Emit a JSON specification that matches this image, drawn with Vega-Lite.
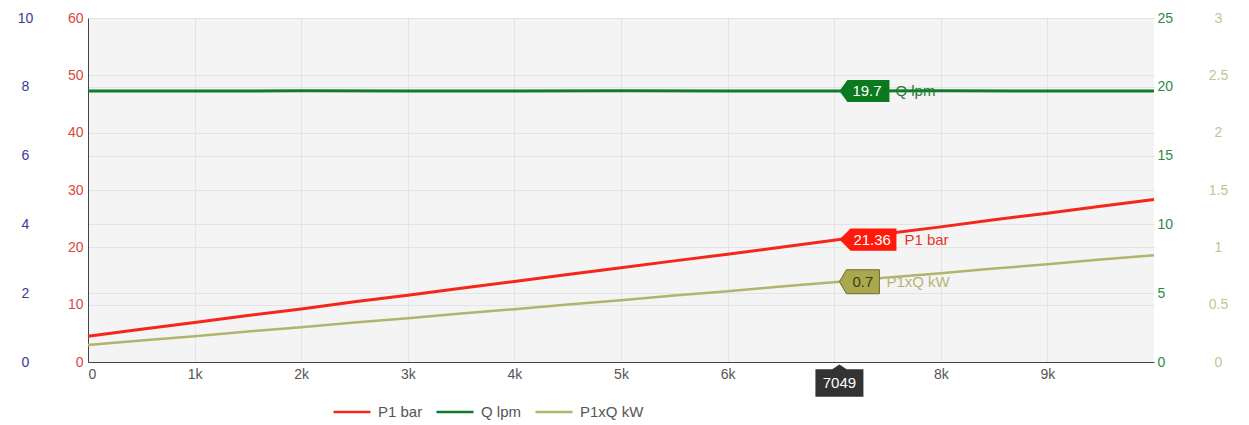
{
  "$schema": "https://vega.github.io/schema/vega-lite/v6.json",
  "width": 1066,
  "height": 344,
  "autosize": "none",
  "padding": {"left": 88, "top": 18, "right": 95, "bottom": 63},
  "background": "white",
  "config": {
    "view": {"fill": "#f4f4f4", "stroke": null},
    "font": "Liberation Sans",
    "axis": {"labelFont": "Liberation Sans", "labelFontSize": 14, "gridColor": "#e4e4e4", "gridWidth": 1, "ticks": false, "title": null},
    "legend": {"labelFont": "Liberation Sans"}
  },
  "datasets": {
    "series": [
      {"t": 0, "series": "P1 bar", "value": 4.5},
      {"t": 500, "series": "P1 bar", "value": 5.72},
      {"t": 1000, "series": "P1 bar", "value": 6.88},
      {"t": 1500, "series": "P1 bar", "value": 8.1},
      {"t": 2000, "series": "P1 bar", "value": 9.25},
      {"t": 2500, "series": "P1 bar", "value": 10.49},
      {"t": 3000, "series": "P1 bar", "value": 11.64},
      {"t": 3500, "series": "P1 bar", "value": 12.87},
      {"t": 4000, "series": "P1 bar", "value": 14.03},
      {"t": 4500, "series": "P1 bar", "value": 15.26},
      {"t": 5000, "series": "P1 bar", "value": 16.42},
      {"t": 5500, "series": "P1 bar", "value": 17.64},
      {"t": 6000, "series": "P1 bar", "value": 18.8},
      {"t": 6500, "series": "P1 bar", "value": 20.03},
      {"t": 7049, "series": "P1 bar", "value": 21.36},
      {"t": 7500, "series": "P1 bar", "value": 22.41},
      {"t": 8000, "series": "P1 bar", "value": 23.57},
      {"t": 8500, "series": "P1 bar", "value": 24.8},
      {"t": 9000, "series": "P1 bar", "value": 25.96},
      {"t": 9500, "series": "P1 bar", "value": 27.18},
      {"t": 10000, "series": "P1 bar", "value": 28.36},
      {"t": 0, "series": "Q lpm", "value": 19.7},
      {"t": 1000, "series": "Q lpm", "value": 19.69},
      {"t": 2000, "series": "Q lpm", "value": 19.71},
      {"t": 3000, "series": "Q lpm", "value": 19.7},
      {"t": 4000, "series": "Q lpm", "value": 19.69},
      {"t": 5000, "series": "Q lpm", "value": 19.71},
      {"t": 6000, "series": "Q lpm", "value": 19.7},
      {"t": 7049, "series": "Q lpm", "value": 19.7},
      {"t": 8000, "series": "Q lpm", "value": 19.71},
      {"t": 9000, "series": "Q lpm", "value": 19.69},
      {"t": 10000, "series": "Q lpm", "value": 19.7},
      {"t": 0, "series": "P1xQ kW", "value": 0.148},
      {"t": 500, "series": "P1xQ kW", "value": 0.188},
      {"t": 1000, "series": "P1xQ kW", "value": 0.225},
      {"t": 1500, "series": "P1xQ kW", "value": 0.266},
      {"t": 2000, "series": "P1xQ kW", "value": 0.304},
      {"t": 2500, "series": "P1xQ kW", "value": 0.345},
      {"t": 3000, "series": "P1xQ kW", "value": 0.382},
      {"t": 3500, "series": "P1xQ kW", "value": 0.423},
      {"t": 4000, "series": "P1xQ kW", "value": 0.46},
      {"t": 4500, "series": "P1xQ kW", "value": 0.501},
      {"t": 5000, "series": "P1xQ kW", "value": 0.539},
      {"t": 5500, "series": "P1xQ kW", "value": 0.58},
      {"t": 6000, "series": "P1xQ kW", "value": 0.617},
      {"t": 6500, "series": "P1xQ kW", "value": 0.658},
      {"t": 7049, "series": "P1xQ kW", "value": 0.7},
      {"t": 7500, "series": "P1xQ kW", "value": 0.736},
      {"t": 8000, "series": "P1xQ kW", "value": 0.773},
      {"t": 8500, "series": "P1xQ kW", "value": 0.815},
      {"t": 9000, "series": "P1xQ kW", "value": 0.852},
      {"t": 9500, "series": "P1xQ kW", "value": 0.893},
      {"t": 10000, "series": "P1xQ kW", "value": 0.93}
    ],
    "markers": [
      {"t": 7049, "series": "P1 bar", "value": 21.36, "label": "21.36"},
      {"t": 7049, "series": "Q lpm", "value": 19.7, "label": "19.7"},
      {"t": 7049, "series": "P1xQ kW", "value": 0.7, "label": "0.7"},
      {"t": 7049, "series": "x", "value": 0, "label": "7049"}
    ]
  },
  "layer": [
    {
      "data": {"values": [{"k": 1}]},
      "mark": {"type": "rule", "opacity": 0},
      "encoding": {
        "y": {"datum": 0, "type": "quantitative", "scale": {"domain": [0, 10], "nice": false},
          "axis": {"orient": "left", "offset": 63, "values": [0, 2, 4, 6, 8, 10], "labelAlign": "center", "labelPadding": 0, "domain": false, "grid": false, "labelColor": "#3a3a94", "title": null}}
      }
    },
    {
      "layer": [
        {
          "data": {"name": "series"},
          "transform": [{"filter": "datum.series === 'P1 bar'"}],
          "mark": {"type": "line", "strokeWidth": 3},
          "encoding": {
            "x": {"field": "t", "type": "quantitative", "scale": {"domain": [0, 10000], "nice": false},
              "axis": {"values": [0, 1000, 2000, 3000, 4000, 5000, 6000, 7000, 8000, 9000], "labelExpr": "datum.value === 0 ? '0' : (datum.value === 7000 ? '' : (datum.value / 1000) + 'k')", "labelColor": "#555555", "labelPadding": 5, "domain": true, "domainColor": "#444444", "grid": true, "title": null}},
            "y": {"field": "value", "type": "quantitative", "scale": {"domain": [0, 60], "nice": false},
              "axis": {"orient": "left", "values": [0, 10, 20, 30, 40, 50, 60], "labelColor": "#d9473d", "labelPadding": 5, "domain": true, "domainColor": "#444444", "grid": true, "title": null}},
            "color": {"field": "series", "type": "nominal",
              "scale": {"domain": ["P1 bar", "Q lpm", "P1xQ kW"], "range": ["#f5261a", "#0f7a2a", "#b3b46c"]},
              "legend": {"orient": "none", "legendX": 244, "legendY": 374, "direction": "horizontal", "title": null, "symbolType": "stroke", "symbolSize": 1369, "symbolStrokeWidth": 2.5, "labelFontSize": 15, "labelColor": "#555555", "columnPadding": 8, "labelOffset": 6}}
          }
        },
        {
          "data": {"name": "markers"},
          "transform": [{"filter": "datum.series === 'P1 bar'"}],
          "mark": {"type": "point", "shape": "M0,0L0.39,-0.39L2,-0.39L2,0.39L0.39,0.39Z", "size": 3249, "filled": true, "fill": "#ff1a0a", "opacity": 1, "strokeWidth": 0},
          "encoding": {"x": {"field": "t", "type": "quantitative", "title": null}, "y": {"field": "value", "type": "quantitative", "title": null}}
        },
        {
          "data": {"name": "markers"},
          "transform": [{"filter": "datum.series === 'P1 bar'"}],
          "mark": {"type": "text", "align": "left", "baseline": "middle", "dx": 14, "fontSize": 15, "color": "#ffffff"},
          "encoding": {"x": {"field": "t", "type": "quantitative", "title": null}, "y": {"field": "value", "type": "quantitative", "title": null}, "text": {"field": "label"}}
        },
        {
          "data": {"name": "markers"},
          "transform": [{"filter": "datum.series === 'P1 bar'"}],
          "mark": {"type": "text", "align": "left", "baseline": "middle", "dx": 65, "fontSize": 15, "color": "#e8332a"},
          "encoding": {"x": {"field": "t", "type": "quantitative", "title": null}, "y": {"field": "value", "type": "quantitative", "title": null}, "text": {"field": "series"}}
        },
        {
          "data": {"name": "markers"},
          "transform": [{"filter": "datum.series === 'x'"}],
          "mark": {"type": "point", "shape": "M0,0.1L0.3,0.3L1,0.3L1,1.45L-1,1.45L-1,0.3L-0.3,0.3Z", "size": 2304, "filled": true, "fill": "#333333", "opacity": 1, "strokeWidth": 0},
          "encoding": {"x": {"field": "t", "type": "quantitative", "title": null}, "y": {"field": "value", "type": "quantitative", "title": null}}
        },
        {
          "data": {"name": "markers"},
          "transform": [{"filter": "datum.series === 'x'"}],
          "mark": {"type": "text", "align": "center", "baseline": "middle", "dy": 21, "fontSize": 15, "color": "#ffffff"},
          "encoding": {"x": {"field": "t", "type": "quantitative", "title": null}, "y": {"field": "value", "type": "quantitative", "title": null}, "text": {"field": "label"}}
        }
      ]
    },
    {
      "layer": [
        {
          "data": {"name": "series"},
          "transform": [{"filter": "datum.series === 'Q lpm'"}],
          "mark": {"type": "line", "strokeWidth": 3},
          "encoding": {
            "x": {"field": "t", "type": "quantitative", "title": null},
            "y": {"field": "value", "type": "quantitative", "scale": {"domain": [0, 25], "nice": false},
              "axis": {"orient": "right", "values": [0, 5, 10, 15, 20, 25], "labelColor": "#2e8a44", "labelPadding": 3, "domain": false, "grid": true, "title": null}},
            "color": {"field": "series", "type": "nominal"}
          }
        },
        {
          "data": {"name": "markers"},
          "transform": [{"filter": "datum.series === 'Q lpm'"}],
          "mark": {"type": "point", "shape": "M0,0L0.32,-0.44L2,-0.44L2,0.44L0.32,0.44Z", "size": 2500, "filled": true, "fill": "#0b7a1e", "opacity": 1, "strokeWidth": 0},
          "encoding": {"x": {"field": "t", "type": "quantitative", "title": null}, "y": {"field": "value", "type": "quantitative", "title": null}}
        },
        {
          "data": {"name": "markers"},
          "transform": [{"filter": "datum.series === 'Q lpm'"}],
          "mark": {"type": "text", "align": "left", "baseline": "middle", "dx": 13, "fontSize": 15, "color": "#ffffff"},
          "encoding": {"x": {"field": "t", "type": "quantitative", "title": null}, "y": {"field": "value", "type": "quantitative", "title": null}, "text": {"field": "label"}}
        },
        {
          "data": {"name": "markers"},
          "transform": [{"filter": "datum.series === 'Q lpm'"}],
          "mark": {"type": "text", "align": "left", "baseline": "middle", "dx": 56, "fontSize": 15, "color": "#1f7a35"},
          "encoding": {"x": {"field": "t", "type": "quantitative", "title": null}, "y": {"field": "value", "type": "quantitative", "title": null}, "text": {"field": "series"}}
        }
      ]
    },
    {
      "layer": [
        {
          "data": {"name": "series"},
          "transform": [{"filter": "datum.series === 'P1xQ kW'"}],
          "mark": {"type": "line", "strokeWidth": 2.5},
          "encoding": {
            "x": {"field": "t", "type": "quantitative", "title": null},
            "y": {"field": "value", "type": "quantitative", "scale": {"domain": [0, 3], "nice": false},
              "axis": {"orient": "right", "offset": 64, "values": [0, 0.5, 1, 1.5, 2, 2.5, 3], "format": "~g", "labelAlign": "center", "labelPadding": 0, "labelColor": "#c3c394", "domain": false, "grid": false, "title": null}},
            "color": {"field": "series", "type": "nominal"}
          }
        },
        {
          "data": {"name": "markers"},
          "transform": [{"filter": "datum.series === 'P1xQ kW'"}],
          "mark": {"type": "point", "shape": "M0,0L0.35,-0.6L2,-0.6L2,0.6L0.35,0.6Z", "size": 1600, "filled": true, "fill": "#a9a84f", "opacity": 1, "stroke": "#6e6d2c", "strokeWidth": 1},
          "encoding": {"x": {"field": "t", "type": "quantitative", "title": null}, "y": {"field": "value", "type": "quantitative", "title": null}}
        },
        {
          "data": {"name": "markers"},
          "transform": [{"filter": "datum.series === 'P1xQ kW'"}],
          "mark": {"type": "text", "align": "left", "baseline": "middle", "dx": 13, "fontSize": 15, "color": "#3c3c14"},
          "encoding": {"x": {"field": "t", "type": "quantitative", "title": null}, "y": {"field": "value", "type": "quantitative", "title": null}, "text": {"field": "label"}}
        },
        {
          "data": {"name": "markers"},
          "transform": [{"filter": "datum.series === 'P1xQ kW'"}],
          "mark": {"type": "text", "align": "left", "baseline": "middle", "dx": 47, "fontSize": 15, "color": "#b5b575"},
          "encoding": {"x": {"field": "t", "type": "quantitative", "title": null}, "y": {"field": "value", "type": "quantitative", "title": null}, "text": {"field": "series"}}
        }
      ]
    }
  ],
  "resolve": {"scale": {"y": "independent"}}
}
